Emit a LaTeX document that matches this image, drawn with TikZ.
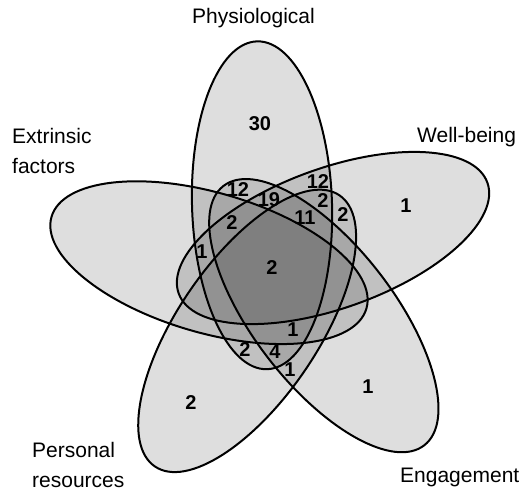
\documentclass[tikz,border=0pt]{standalone}
\usepackage{fontspec}
\setmainfont{Liberation Sans}
\usepackage{tikz}
\usetikzlibrary{positioning,calc}

\begin{document}
\begin{tikzpicture}[
        x=1pt,y=1pt,
        font=\fontsize{21}{30}\selectfont,
        set/.style={draw,line width=2pt,fill=black,fill opacity=0.13},
        num/.style={font=\fontsize{20}{20}\selectfont\bfseries,inner sep=0pt},
        lbl/.style={inner sep=0pt,align=left}
    ]
        \useasboundingbox (0,0) rectangle (531,493);
        \coordinate (mid) at (275,222.5);

        \foreach \ang in {91.75,19.75,-52.25,-124.25,163.75}
            \draw[set,shift={(mid)},rotate=\ang] (9.5:66.5) ellipse [x radius=164,y radius=70];

        \node[lbl,anchor=base] (physio) at (253.5,469) {Physiological};
        \node[lbl,anchor=north west] (extrinsic) at (12,365) {Extrinsic\\factors};
        \node[lbl,anchor=base west] (wellbeing) at (417,350) {Well-being};
        \node[lbl,anchor=north west] (personal) at (32,51) {Personal\\resources};
        \node[lbl,anchor=base west] (engage) at (400,10) {Engagement};

        \node[num] (nP) at (260,369) {30};
        \node[num] (nW) at (406,287) {1};
        \node[num] (nE) at (368,106) {1};
        \node[num] (nR) at (191,90) {2};
        \node[num] (nPE) at (238,303) {12};
        \node[num] (nPWE) at (269,293) {19};
        \node[num] (nPW) at (318,311) {12};
        \node[num] (nPWR) at (323,292) {2};
        \node[num] (nWR) at (343,278) {2};
        \node[num] (nPWRE) at (305,275) {11};
        \node[num] (nPEX) at (232,270) {2};
        \node[num] (nPX) at (202,241) {1};
        \node[num] (nall) at (272,225) {2};
        \node[num] (nERX) at (293,163) {1};
        \node[num] (nPRX) at (245,143) {2};
        \node[num] (nPRE) at (275,141) {4};
        \node[num] (nRE) at (290,123) {1};
    \end{tikzpicture}
\end{document}
